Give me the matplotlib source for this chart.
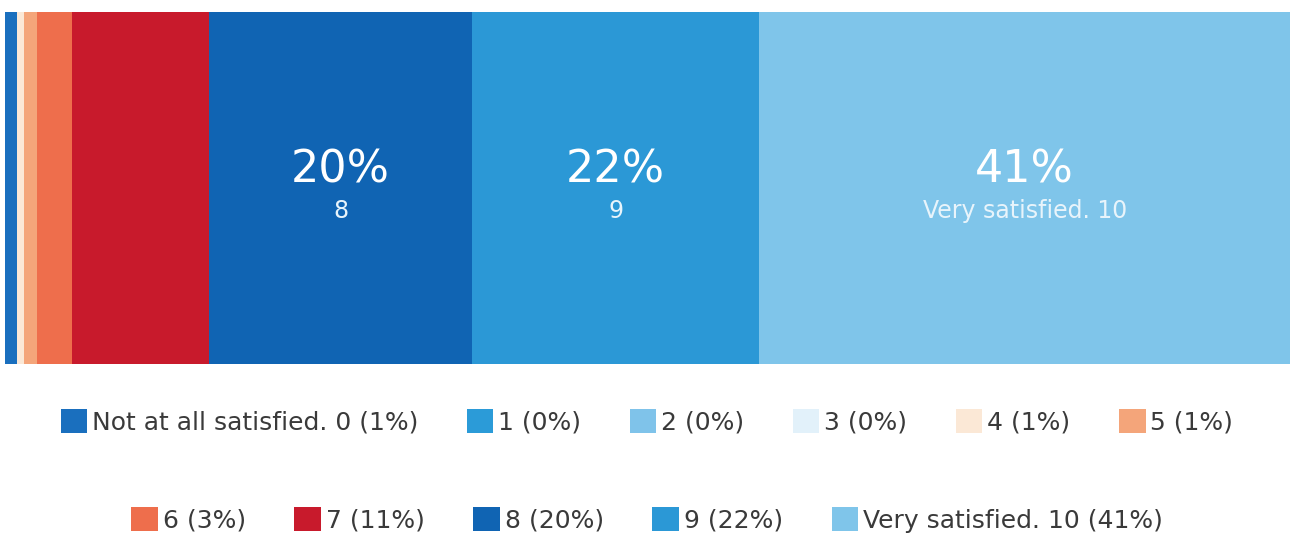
import matplotlib
matplotlib.use('Agg')
import matplotlib.pyplot as plt

plt.rcParams['font.family'] = ['DejaVu Sans']

categories = ['Not at all satisfied. 0', '1', '2', '3', '4', '5',
              '6', '7', '8', '9', 'Very satisfied. 10']
short_labels = ['0', '1', '2', '3', '4', '5', '6', '7', '8', '9', 'Very satisfied. 10']
shares = [0.9, 0.0, 0.0, 0.0, 0.6, 1.0, 2.7, 10.7, 20.4, 22.4, 41.3]
legend_pct = [1, 0, 0, 0, 1, 1, 3, 11, 20, 22, 41]
colors = ['#1a6fbe', '#2b9bd8', '#7fc3ea', '#e2f1fa', '#fbe8d6', '#f4a57a',
          '#ee6e4c', '#c81a2c', '#1064b3', '#2b98d6', '#7fc5ea']

fig = plt.figure(figsize=(12.94, 5.41), dpi=100)
ax = fig.add_axes([0.004, 0.327, 0.993, 0.651])

left = 0
handles = []
labels = []
for cat, val, col, short, pct in zip(categories, shares, colors, short_labels, legend_pct):
    bars = ax.barh(0, val, left=left, height=1.0, color=col, edgecolor='none')
    handles.append(bars[0])
    labels.append(f'{cat} ({pct}%)')
    if val >= 15:
        cx = left + val / 2
        ax.text(cx, 0.05, f'{pct}%', ha='center', va='center', color='white', fontsize=32)
        ax.text(cx, -0.065, short, ha='center', va='center', color='#e8f4fb', fontsize=17)
    left += val

ax.set_xlim(0, left)
ax.set_ylim(-0.5, 0.5)
ax.axis('off')

leg_kw = dict(loc='center', frameon=False, fontsize=18, handlelength=1.05,
              handleheight=1.1, handletextpad=0.2, columnspacing=1.95,
              labelcolor='#3a3a3a')
fig.legend(handles[:6], labels[:6], ncol=6, bbox_to_anchor=(0.5, 0.22), **leg_kw)
fig.legend(handles[6:], labels[6:], ncol=5, bbox_to_anchor=(0.5, 0.039), **leg_kw)

fig.savefig('out.png', dpi=100)
